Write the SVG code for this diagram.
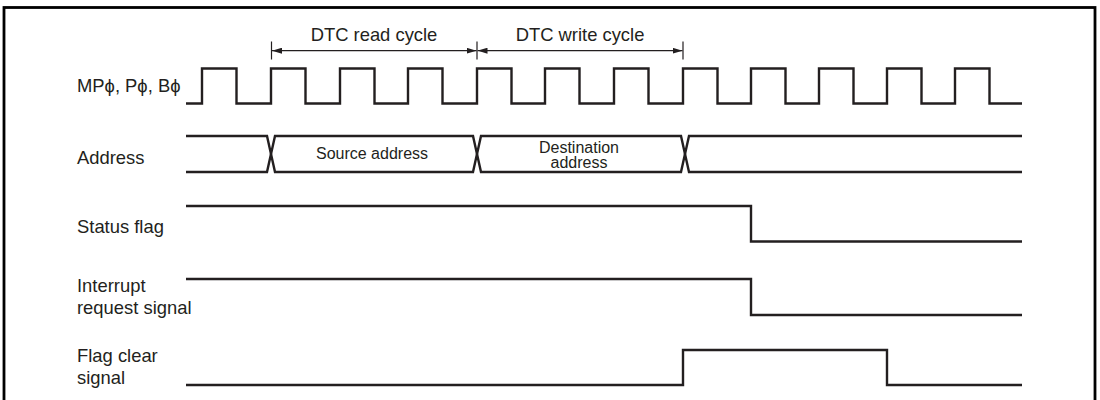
<svg xmlns="http://www.w3.org/2000/svg" width="1100" height="400" viewBox="0 0 1100 400">
  <defs>
    <style>
      .sig { fill: none; stroke: #231f20; stroke-width: 2.4; stroke-linejoin: miter; stroke-linecap: butt; }
      .dim { fill: none; stroke: #231f20; stroke-width: 1.2; }
      .lbl { font-family: "Liberation Sans", Arial, Helvetica, sans-serif; font-size: 18.4px; fill: #231f20; }
      .small { font-family: "Liberation Sans", Arial, Helvetica, sans-serif; font-size: 16px; fill: #231f20; }
    </style>
    <marker id="arr" viewBox="0 0 10 6" refX="10" refY="3" markerWidth="10" markerHeight="6" markerUnits="userSpaceOnUse" orient="auto-start-reverse">
      <path d="M0,0 L10,3 L0,6 Z" fill="#231f20"/>
    </marker>
  </defs>

  <rect x="4" y="7.5" width="1091" height="420" fill="none" stroke="#000" stroke-width="2.8"/>

  <g id="cycle-annotations">
    <g id="read-cycle">
      <text class="lbl" x="374" y="41" text-anchor="middle">DTC read cycle</text>
    </g>
    <g id="write-cycle">
      <text class="lbl" x="580" y="41" text-anchor="middle">DTC write cycle</text>
    </g>
  </g>

  <g id="connectors">
    <path class="dim" d="M271.5,41.5 V59.5 M477,41.5 V59.5 M683,41.5 V59.5"/>
    <path class="dim" d="M272,50.7 H476.5" marker-start="url(#arr)" marker-end="url(#arr)"/>
    <path class="dim" d="M477.5,50.7 H682.5" marker-start="url(#arr)" marker-end="url(#arr)"/>
  </g>

  <g id="clock">
    <text class="lbl" x="77" y="92">MPϕ, Pϕ, Bϕ</text>
    <path class="sig" d="M186,103.5 H202 V68.5 H236.5 V103.5 H271 V68.5 H305.5 V103.5 H340 V68.5 H374.5 V103.5 H408 V68.5 H442.5 V103.5 H477 V68.5 H511.5 V103.5 H545 V68.5 H579.5 V103.5 H614 V68.5 H648.5 V103.5 H683 V68.5 H717.5 V103.5 H751 V68.5 H785.5 V103.5 H819 V68.5 H853.5 V103.5 H887 V68.5 H921.5 V103.5 H955 V68.5 H989.5 V103.5 H1022"/>
  </g>

  <g id="address">
    <text class="lbl" x="77" y="163.5">Address</text>
    <path class="sig" d="M186,136 H267 L275,172 H473 L481,136 H681 L689,172 H1022"/>
    <path class="sig" d="M186,172 H267 L275,136 H473 L481,172 H681 L689,136 H1022"/>
    <text class="small" x="372" y="159" text-anchor="middle">Source address</text>
    <text class="small" x="579" y="153" text-anchor="middle">Destination</text>
    <text class="small" x="579" y="168" text-anchor="middle">address</text>
  </g>

  <g id="status-flag">
    <text class="lbl" x="77" y="232.5">Status flag</text>
    <path class="sig" d="M186,206 H751 V241.5 H1022"/>
  </g>

  <g id="interrupt-request">
    <text class="lbl" x="77" y="291.5">Interrupt</text>
    <text class="lbl" x="77" y="313.5">request signal</text>
    <path class="sig" d="M186,279 H751 V315 H1022"/>
  </g>

  <g id="flag-clear">
    <text class="lbl" x="77" y="361.5">Flag clear</text>
    <text class="lbl" x="77" y="383.5">signal</text>
    <path class="sig" d="M186,385 H683 V350 H887 V385 H1022"/>
  </g>
</svg>
